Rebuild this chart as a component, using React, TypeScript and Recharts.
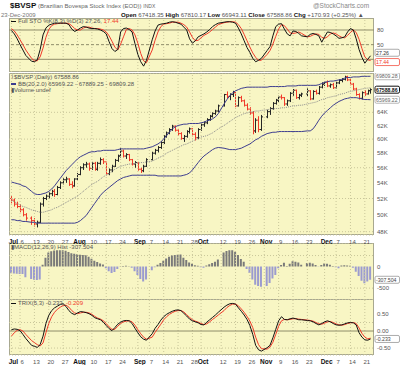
import React from "react";
import {
  ComposedChart,
  Line,
  Bar,
  Cell,
  XAxis,
  YAxis,
  CartesianGrid,
  ReferenceLine,
} from "recharts";

// $BVSP daily bars, 1 Jul - 23 Dec 2009, one slot per weekday (null = exchange closed)
// prices in thousands
const opens = [
  52.0, 51.8, 51.3, 51.0, 50.6, 50.0, null, 49.6, 49.3, 48.9,
  49.1, 51.3, 52.0, 52.3, 52.6, 52.9, 52.5, 53.4, 54.0, 54.4,
  54.5, 53.8, 53.6, 54.5, 55.1, 56.0, 56.4, 56.5, 55.9, 56.6,
  55.8, 56.6, 57.1, 56.8, 55.2, 55.7, 56.2, 57.0, 57.6, 58.3,
  57.6, 57.8, 57.1, 56.5, 56.7, 55.8, 55.6, 56.2, null, 57.1,
  58.0, 58.4, 58.8, 59.5, 60.4, 60.9, 61.4, 61.9, 61.3, 60.8,
  60.1, 60.4, 61.1, 61.5, 60.7, 60.2, 61.4, 62.1, 62.4, 62.9,
  63.4, 63.8, 64.2, null, 65.0, 66.8, 66.5, 66.8, 67.1, 65.0,
  66.3, 65.8, 65.1, 64.5, 63.9, 61.2, 62.8, 61.4, null, 63.3,
  64.1, 64.6, 65.4, 65.9, 66.4, 66.3, 65.3, 65.8, 67.0, 67.5,
  66.3, 66.7, null, 66.9, 67.4, 66.1, 67.3, 67.0, 68.0, 68.5,
  68.8, 68.2, 68.4, 67.9, 68.7, 69.1, 69.3, 69.7, 69.2, 68.5,
  67.7, 66.8, 66.2, 67.1, 66.9, 67.42,
];
const highs = [
  52.3, 52.0, 51.6, 51.3, 50.8, 50.2, null, 49.8, 49.6, 49.3,
  51.5, 52.2, 52.5, 52.8, 53.1, 53.2, 53.6, 54.2, 54.6, 54.8,
  54.6, 54.2, 54.6, 55.3, 56.2, 56.6, 56.8, 56.7, 56.8, 56.8,
  56.8, 57.4, 57.3, 56.8, 55.9, 56.4, 57.2, 57.8, 58.7, 58.5,
  58.0, 57.9, 57.2, 56.9, 56.8, 56.0, 56.4, 57.3, null, 58.2,
  58.6, 59.0, 59.7, 60.6, 61.1, 61.6, 62.1, 62.0, 61.5, 61.0,
  60.6, 61.3, 61.7, 61.6, 61.0, 61.6, 62.3, 62.6, 63.1, 63.6,
  64.0, 64.4, 65.2, null, 66.9, 67.3, 67.0, 67.4, 67.2, 66.5,
  66.6, 66.0, 65.4, 64.8, 64.2, 63.1, 63.4, 63.6, null, 64.4,
  64.8, 65.6, 66.1, 66.6, 66.8, 66.4, 66.0, 67.2, 67.7, 67.6,
  66.9, 67.1, null, 67.8, 67.5, 67.5, 67.6, 68.2, 68.8, 69.0,
  69.1, 68.6, 68.7, 68.9, 69.3, 69.5, 69.9, 69.9, 69.4, 68.7,
  67.9, 67.0, 67.3, 67.5, 67.6, 67.81,
];
const lows = [
  51.4, 51.0, 50.8, 50.3, 49.8, 49.3, null, 48.8, 48.6, 48.5,
  49.0, 51.0, 51.8, 52.0, 52.3, 52.2, 52.4, 53.2, 53.8, 54.0,
  53.6, 53.3, 53.5, 54.3, 55.0, 55.7, 56.0, 55.6, 55.7, 55.6,
  55.6, 56.4, 56.5, 55.0, 55.0, 55.4, 56.1, 56.8, 57.4, 57.4,
  57.2, 56.9, 56.3, 56.0, 55.6, 55.3, 55.4, 56.1, null, 57.0,
  57.8, 58.1, 58.6, 59.3, 60.2, 60.7, 61.2, 61.1, 60.5, 59.9,
  59.6, 60.2, 60.8, 60.4, 59.8, 60.0, 61.2, 61.8, 62.2, 62.7,
  63.2, 63.6, 64.0, null, 64.9, 66.2, 65.9, 66.4, 64.8, 64.9,
  65.6, 64.9, 64.3, 63.6, 60.7, 60.9, 61.0, 61.2, null, 63.1,
  63.6, 64.4, 65.2, 65.6, 66.0, 65.0, 65.0, 65.6, 66.6, 66.1,
  66.0, 66.4, null, 66.5, 65.9, 66.0, 66.8, 66.8, 67.8, 68.2,
  68.0, 67.9, 67.7, 67.8, 68.5, 68.8, 69.1, 69.0, 68.3, 67.5,
  66.6, 66.0, 66.0, 66.6, 66.8, 66.94,
];
const closes = [
  51.8, 51.3, 51.0, 50.6, 50.0, 49.6, null, 49.3, 48.9, 49.1,
  51.3, 52.0, 52.3, 52.6, 52.9, 52.5, 53.4, 54.0, 54.4, 54.5,
  53.8, 53.6, 54.5, 55.1, 56.0, 56.4, 56.5, 55.9, 56.6, 55.8,
  56.6, 57.1, 56.8, 55.2, 55.7, 56.2, 57.0, 57.6, 58.3, 57.6,
  57.8, 57.1, 56.5, 56.7, 55.8, 55.6, 56.2, 57.1, null, 58.0,
  58.4, 58.8, 59.5, 60.4, 60.9, 61.4, 61.9, 61.3, 60.8, 60.1,
  60.4, 61.1, 61.5, 60.7, 60.2, 61.4, 62.1, 62.4, 62.9, 63.4,
  63.8, 64.2, 65.0, null, 66.8, 66.5, 66.8, 67.1, 65.0, 66.3,
  65.8, 65.1, 64.5, 63.9, 61.2, 62.8, 61.4, 63.3, null, 64.1,
  64.6, 65.4, 65.9, 66.4, 66.3, 65.3, 65.8, 67.0, 67.5, 66.3,
  66.7, 66.9, null, 67.4, 66.1, 67.3, 67.0, 68.0, 68.5, 68.8,
  68.2, 68.4, 67.9, 68.7, 69.1, 69.3, 69.7, 69.2, 68.5, 67.7,
  66.8, 66.2, 67.1, 66.9, 67.42, 67.59,
];

// Bollinger bands (20,2)
const bbUpper = [
  54.1, 54.0, 53.9, 53.8, 53.6, 53.5, null, 52.9, 52.6, 52.5,
  52.5, 52.6, 52.7, 52.9, 53.2, 53.6, 54.1, 54.6, 55.1, 55.6,
  56.0, 56.4, 56.8, 57.2, 57.5, 57.7, 57.9, 58.1, 58.2, 58.2,
  58.3, 58.3, 58.4, 58.4, 58.4, 58.4, 58.4, 58.5, 58.6, 58.6,
  58.6, 58.6, 58.6, 58.6, 58.6, 58.6, 58.6, 58.7, null, 58.9,
  59.1, 59.3, 59.6, 60.0, 60.5, 61.0, 61.5, 61.8, 62.0, 62.1,
  62.2, 62.2, 62.3, 62.3, 62.3, 62.3, 62.4, 62.5, 62.7, 62.8,
  63.0, 63.3, 63.8, null, 65.3, 66.0, 66.6, 67.1, 67.4, 67.6,
  67.8, 67.9, 68.0, 68.0, 68.0, 68.0, 68.0, 68.0, null, 68.0,
  68.1, 68.1, 68.1, 68.1, 68.1, 68.1, 68.2, 68.2, 68.2, 68.2,
  68.3, 68.3, null, 68.3, 68.3, 68.3, 68.3, 68.4, 68.6, 68.8,
  68.9, 69.0, 69.0, 69.1, 69.2, 69.3, 69.5, 69.6, 69.6, 69.7,
  69.7, 69.7, 69.8, 69.8, 69.8, 69.81,
];
const bbMid = [
  51.8, 51.6, 51.4, 51.2, 51.0, 50.9, null, 50.6, 50.5, 50.4,
  50.3, 50.3, 50.4, 50.5, 50.6, 50.8, 50.9, 51.1, 51.3, 51.5,
  51.7, 51.9, 52.1, 52.3, 52.6, 52.9, 53.2, 53.5, 53.8, 54.0,
  54.2, 54.5, 54.8, 55.0, 55.2, 55.5, 55.8, 56.0, 56.2, 56.3,
  56.4, 56.5, 56.5, 56.6, 56.6, 56.7, 56.7, 56.8, null, 56.9,
  57.1, 57.3, 57.5, 57.7, 58.0, 58.2, 58.4, 58.6, 58.8, 59.0,
  59.2, 59.3, 59.5, 59.7, 59.9, 60.1, 60.3, 60.4, 60.5, 60.7,
  60.9, 61.2, 61.5, null, 62.0, 62.3, 62.6, 62.9, 63.2, 63.4,
  63.6, 63.8, 63.9, 64.0, 64.1, 64.2, 64.2, 64.3, null, 64.4,
  64.5, 64.5, 64.6, 64.6, 64.7, 64.7, 64.8, 64.9, 65.0, 65.0,
  65.1, 65.1, null, 65.3, 65.4, 65.5, 65.6, 65.8, 66.0, 66.1,
  66.3, 66.4, 66.5, 66.6, 66.8, 66.9, 67.0, 67.2, 67.3, 67.4,
  67.5, 67.6, 67.7, 67.8, 67.85, 67.89,
];
const bbLower = [
  49.4, 49.4, 49.3, 49.3, 49.2, 49.2, null, 49.1, 49.1, 49.0,
  49.0, 49.0, 49.0, 49.0, 49.0, 49.0, 49.0, 49.0, 49.0, 49.0,
  49.0, 49.0, 49.0, 49.1, 49.3, 49.6, 49.9, 50.4, 50.9, 51.4,
  51.9, 52.4, 52.8, 53.1, 53.4, 53.7, 54.0, 54.3, 54.5, 54.7,
  54.8, 54.9, 55.0, 55.0, 55.0, 55.0, 55.0, 55.0, null, 55.0,
  55.0, 54.9, 54.9, 54.9, 54.9, 54.9, 54.9, 54.9, 54.9, 54.9,
  55.0, 55.1, 55.3, 55.7, 56.2, 56.7, 57.2, 57.6, 57.9, 58.2,
  58.5, 58.7, 58.8, null, 58.7, 58.6, 58.5, 58.5, 58.5, 58.6,
  58.7, 58.9, 59.1, 59.3, 59.6, 59.9, 60.1, 60.4, null, 60.8,
  60.9, 61.0, 61.0, 61.1, 61.1, 61.1, 61.1, 61.1, 61.1, 61.1,
  61.1, 61.1, null, 61.2, 61.2, 61.5, 62.1, 62.8, 63.4, 63.9,
  64.3, 64.7, 65.1, 65.4, 65.7, 65.9, 66.1, 66.2, 66.3, 66.3,
  66.3, 66.2, 66.1, 66.0, 66.0, 65.97,
];

// Full STO %K(8,3) %D(3)
const stoK = [
  79, 72, 62, 50, 39, 28, null, 16, 15, 19,
  40, 70, 84, 90, 92, 94, 94, 94, 94, 94,
  91, 82, 77, 80, 84, 87, 86, 84, 83, 83,
  82, 80, 77, 72, 56, 42, 36, 40, 76, 83,
  84, 81, 76, 52, 30, 15, 6, 18, null, 60,
  78, 90, 92, 93, 94, 96, 97, 96, 94, 92,
  86, 80, 62, 53, 58, 66, 69, 72, 76, 81,
  87, 91, 94, null, 96, 97, 97, 96, 94, 84,
  72, 58, 44, 34, 22, 15, 18, 22, null, 38,
  46, 68, 87, 92, 93, 82, 72, 68, 78, 77,
  73, 68, null, 66, 71, 73, 71, 68, 55, 66,
  76, 75, 72, 68, 63, 64, 66, 76, 83, 80,
  62, 40, 24, 12, 20, 27.26,
];
const stoD = [
  83, 78, 70, 60, 50, 39, null, 22, 17, 17,
  25, 43, 65, 81, 89, 92, 93, 94, 94, 94,
  93, 89, 83, 80, 80, 84, 86, 86, 84, 83,
  83, 82, 80, 76, 68, 57, 45, 39, 51, 66,
  81, 83, 80, 70, 53, 32, 17, 13, null, 39,
  59, 76, 87, 92, 93, 94, 96, 96, 96, 94,
  91, 86, 76, 65, 58, 59, 64, 69, 72, 76,
  81, 86, 91, null, 95, 96, 97, 97, 96, 91,
  83, 71, 58, 45, 33, 24, 18, 18, null, 30,
  38, 51, 67, 82, 91, 89, 82, 74, 73, 74,
  76, 73, null, 66, 67, 70, 72, 71, 65, 63,
  66, 72, 74, 72, 68, 65, 64, 69, 75, 80,
  75, 61, 42, 25, 19, 17.44,
];

// MACD(12,26,9) histogram
const macdHist = [
  -160, -165, -170, -172, -175, -250, null, -290, -305, -310,
  -300, 40, 200, 320, 350, 365, 370, 372, 370, 360,
  330, 305, 290, 280, 270, 262, 255, 220, 175, 130,
  100, 70, 45, -40, -110, -150, -130, -60, -10, 10,
  15, 5, -30, -110, -200, -290, -345, -300, null, -90,
  -20, 40, 80, 130, 180, 220, 250, 265, 270, 275,
  200, 150, 90, 60, 25, 15, -20, -30, 20, 50,
  80, 110, 160, null, 320, 355, 370, 375, 340, 260,
  170, 110, -60, -150, -300, -420, -450, -470, null, -450,
  -380, -280, -200, -40, 30, 86, 10, 60, 117, 110,
  90, 40, null, 80, 85, 70, 30, -10, 30, 70,
  60, 40, 10, -20, -40, 20, 25, 20, 15, -30,
  -120, -220, -330, -390, -350, -307.504,
];

// TRIX(5,3) and its signal
const trix = [
  0.04, 0.06, 0.05, 0.01, -0.1, -0.22, null, -0.42, -0.45, -0.48,
  -0.4, -0.15, 0.22, 0.46, 0.6, 0.68, 0.73, 0.78, 0.8, 0.72,
  0.6, 0.52, 0.48, 0.53, 0.57, 0.56, 0.54, 0.51, 0.46, 0.39,
  0.36, 0.33, 0.26, 0.16, 0.07, 0.01, 0.1, 0.2, 0.26, 0.3,
  0.31, 0.3, 0.22, 0.08, -0.05, -0.17, -0.24, -0.27, null, -0.08,
  0.08, 0.19, 0.32, 0.42, 0.49, 0.54, 0.58, 0.61, 0.62, 0.6,
  0.52, 0.44, 0.35, 0.3, 0.27, 0.24, 0.19, 0.18, 0.26, 0.33,
  0.4, 0.47, 0.55, null, 0.7, 0.76, 0.8, 0.81, 0.79, 0.68,
  0.58, 0.47, 0.34, 0.16, -0.1, -0.42, -0.55, -0.59, null, -0.49,
  -0.42, -0.2, 0.05, 0.3, 0.42, 0.34, 0.33, 0.36, 0.38, 0.36,
  0.33, 0.33, null, 0.31, 0.3, 0.27, 0.22, 0.18, 0.22, 0.27,
  0.3, 0.27, 0.22, 0.18, 0.17, 0.18, 0.21, 0.24, 0.25, 0.24,
  0.18, -0.05, -0.18, -0.26, -0.27, -0.233,
];
const trixSig = [
  -0.15, -0.05, 0.02, 0.04, 0.0, -0.1, null, -0.28, -0.34, -0.4,
  -0.44, -0.35, -0.05, 0.22, 0.42, 0.55, 0.64, 0.7, 0.75, 0.76,
  0.7, 0.6, 0.53, 0.51, 0.53, 0.55, 0.55, 0.53, 0.49, 0.43,
  0.38, 0.35, 0.3, 0.22, 0.12, 0.05, 0.05, 0.14, 0.22, 0.27,
  0.29, 0.3, 0.27, 0.17, 0.04, -0.08, -0.18, -0.24, null, -0.18,
  -0.04, 0.08, 0.2, 0.33, 0.42, 0.49, 0.54, 0.58, 0.6, 0.6,
  0.56, 0.48, 0.4, 0.33, 0.29, 0.26, 0.22, 0.19, 0.21, 0.27,
  0.34, 0.4, 0.47, null, 0.6, 0.69, 0.75, 0.79, 0.79, 0.74,
  0.65, 0.55, 0.43, 0.29, 0.1, -0.18, -0.4, -0.52, null, -0.53,
  -0.47, -0.33, -0.1, 0.14, 0.3, 0.34, 0.33, 0.34, 0.36, 0.36,
  0.35, 0.34, null, 0.32, 0.31, 0.29, 0.25, 0.21, 0.2, 0.23,
  0.27, 0.28, 0.25, 0.21, 0.18, 0.17, 0.19, 0.22, 0.24, 0.25,
  0.22, 0.09, -0.07, -0.18, -0.23, -0.209,
];

const tickIdx = [0, 3, 8, 13, 18, 23, 28, 33, 38, 44, 48, 53, 58, 63, 66, 73, 78, 83, 88, 93, 98, 103, 109, 113, 118, 123];
const tickLabels = ["Jul", "6", "13", "20", "27", "Aug", "10", "17", "24", "Sep", "7", "14", "21", "28", "Oct", "12", "19", "26", "Nov", "9", "16", "23", "Dec", "7", "14", "21"];
const monthNames = ["Jul", "Aug", "Sep", "Oct", "Nov", "Dec"];

const priceTicks = [48, 50, 52, 54, 56, 58, 60, 62, 64];
const stoTicks = [80, 50];
const macdTicks = [500, 250, 0, -250, -500];
const trixTicks = [0.75, 0.5, 0.25, 0, -0.25, -0.5];

const lastBar = { open: "67418.35", high: "67810.17", low: "66943.11", close: "67588.86", chg: "+170.93 (+0.25%)" };
const bbLast = ["65969.22", "67889.25", "69809.28"];
const stoLast = ["27.26", "17.44"];
const macdLast = "-307.504";
const trixLast = ["-0.233", "-0.209"];

const FONT = '"Liberation Sans", Arial, sans-serif';
const BG = "#f8f6c4";
const GRID = "#c9c69a";
const LEVEL = "#8f8d6a";
const RED = "#f03a2a";
const NAVY = "#3d3d8f";

let prevClose: number | null = null;
const data = closes.map((c, i) => {
  const row = {
    i,
    range: c == null ? null : [lows[i], highs[i]],
    o: opens[i],
    h: highs[i],
    l: lows[i],
    c,
    up: c != null && prevClose != null && c >= prevClose,
    upper: bbUpper[i],
    mid: bbMid[i],
    lower: bbLower[i],
    k: stoK[i],
    d: stoD[i],
    hist: macdHist[i],
    trix: trix[i],
    sig: trixSig[i],
  };
  if (c != null) prevClose = c;
  return row;
});

const OhlcShape = (props: any) => {
  const { x, y, width, height, payload } = props;
  if (payload == null || payload.c == null) return null;
  const top = Math.min(y, y + height);
  const h = Math.abs(height);
  const cx = Math.round(x + width / 2) + 0.5;
  const lh = Math.log(payload.h);
  const ll = Math.log(payload.l);
  const toY = (v: number) => top + ((lh - Math.log(v)) / (lh - ll || 1)) * h;
  const color = payload.up ? "#262626" : RED;
  return (
    <g stroke={color} strokeWidth={1}>
      <line x1={cx} x2={cx} y1={top} y2={top + Math.max(h, 1)} />
      <line x1={cx - 1.5} x2={cx} y1={toY(payload.o)} y2={toY(payload.o)} />
      <line x1={cx} x2={cx + 1.5} y1={toY(payload.c)} y2={toY(payload.c)} />
    </g>
  );
};

const DateTick = (props: any) => {
  const { x, y, payload } = props;
  const k = tickIdx.indexOf(payload.value);
  const label = k >= 0 ? tickLabels[k] : "";
  const bold = monthNames.includes(label);
  return (
    <text
      x={x + 2}
      y={y + 6.5}
      textAnchor="middle"
      fontSize={bold ? 6.5 : 6}
      fontWeight={bold ? "bold" : "normal"}
      fill={bold ? "#111" : "#555"}
      fontFamily={FONT}
    >
      {label}
    </text>
  );
};

// little value flag drawn at the right end of a reference line
const valueBox =
  (text: string, color: string, border: string, bold = false, dy = 0) =>
  (props: any) => {
    const vb = props.viewBox || {};
    const x = (vb.x || 0) + (vb.width || 0) + 1;
    const y = (vb.y || 0) + dy;
    return (
      <g>
        <rect x={x} y={y - 3.5} width={24.5} height={7} rx={1.5} fill="#fff" stroke={border} strokeWidth={bold ? 1 : 0.7} />
        <text x={x + 1} y={y + 2} fontSize={5.2} fontFamily={FONT} fill={color} fontWeight={bold ? "bold" : "normal"}>
          {text}
        </text>
      </g>
    );
  };

const xCommon = {
  dataKey: "i",
  scale: "band" as const,
  padding: { left: 1, right: 2 },
  ticks: tickIdx,
  interval: 0 as const,
};

const yCommon = {
  orientation: "right" as const,
  width: 26,
  tickLine: false,
  axisLine: false,
  tickSize: 0,
  tickMargin: 3,
  allowDataOverflow: true,
  tick: { fontSize: 6, fill: "#555", fontFamily: FONT },
};

const vGrid = tickIdx.map((t) => (
  <ReferenceLine key={"v" + t} x={t} stroke={GRID} strokeDasharray="1 2" />
));

const PL = 9;
const PW = 365;

const panel = (top: number, h: number) => (
  <div
    style={{
      position: "absolute",
      left: PL,
      top,
      width: PW,
      height: h,
      background: BG,
      boxSizing: "border-box",
      border: "1px solid #a8a890",
    }}
  />
);

const txt = (style: React.CSSProperties, children: React.ReactNode) => (
  <div
    style={{
      position: "absolute",
      whiteSpace: "nowrap",
      fontFamily: FONT,
      lineHeight: 1,
      color: "#555",
      ...style,
    }}
  >
    {children}
  </div>
);

const dash = (color: string) => (
  <span style={{ display: "inline-block", width: 5, height: 1.5, background: color, verticalAlign: "middle", marginRight: 2 }} />
);

export default function App() {
  return (
    <div
      style={{
        position: "absolute",
        left: 0,
        top: 0,
        width: 400,
        height: 365,
        background: "#fff",
        overflow: "hidden",
        fontFamily: FONT,
      }}
    >
      {panel(18, 54)}
      {panel(73, 162)}
      {panel(243, 57)}
      {panel(299, 56)}

      {/* Full stochastics */}
      <div style={{ position: "absolute", left: 0, top: 18 }}>
        <ComposedChart width={400} height={54} data={data} margin={{ top: 0, right: 0, bottom: 0, left: PL }}>
          <XAxis {...xCommon} hide />
          <YAxis {...yCommon} domain={[-6, 104.6]} ticks={stoTicks} />
          {vGrid}
          <ReferenceLine y={80} stroke={LEVEL} />
          <ReferenceLine y={50} stroke={LEVEL} strokeDasharray="3 2" />
          <ReferenceLine y={20} stroke={LEVEL} />
          <Line dataKey="d" stroke={RED} strokeWidth={1} dot={false} connectNulls isAnimationActive={false} />
          <Line dataKey="k" stroke="#111" strokeWidth={1} dot={false} connectNulls isAnimationActive={false} />
          <ReferenceLine y={27.26} stroke="none" label={valueBox(stoLast[0], "#333", "#888", false, -3)} />
          <ReferenceLine y={17.44} stroke="none" label={valueBox(stoLast[1], RED, RED, false, 1.5)} />
        </ComposedChart>
      </div>

      {/* Price with Bollinger bands */}
      <div style={{ position: "absolute", left: 0, top: 73 }}>
        <ComposedChart width={400} height={172} data={data} margin={{ top: 0, right: 0, bottom: 0, left: PL }}>
          <XAxis {...xCommon} height={10} tickLine={false} axisLine={false} tickSize={0} tick={(p: any) => <DateTick {...p} />} />
          <YAxis
            {...yCommon}
            scale="log"
            domain={[47.62, 70.36]}
            ticks={priceTicks}
            tickFormatter={(v: number) => v + "K"}
          />
          <CartesianGrid vertical={false} stroke={GRID} strokeDasharray="1 2" />
          {vGrid}
          <Line dataKey="mid" stroke="#8c8c8c" strokeWidth={1} strokeDasharray="1 1" dot={false} connectNulls isAnimationActive={false} />
          <Line dataKey="upper" stroke={NAVY} strokeWidth={1} dot={false} connectNulls isAnimationActive={false} />
          <Line dataKey="lower" stroke={NAVY} strokeWidth={1} dot={false} connectNulls isAnimationActive={false} />
          <Bar dataKey="range" shape={(p: any) => <OhlcShape {...p} />} isAnimationActive={false} />
          <ReferenceLine y={69.80928} stroke="none" label={valueBox(bbLast[2], "#666", "#999")} />
          <ReferenceLine y={67.58886} stroke="none" label={valueBox(lastBar.close, "#111", "#111", true)} />
          <ReferenceLine y={65.96922} stroke="none" label={valueBox(bbLast[0], "#666", "#999")} />
        </ComposedChart>
      </div>

      {/* MACD histogram */}
      <div style={{ position: "absolute", left: 0, top: 243 }}>
        <ComposedChart width={400} height={57} data={data} margin={{ top: 0, right: 0, bottom: 0, left: PL }}>
          <XAxis {...xCommon} hide />
          <YAxis {...yCommon} domain={[-773, 539]} ticks={macdTicks} />
          <CartesianGrid vertical={false} stroke={GRID} strokeDasharray="1 2" />
          {vGrid}
          <Bar dataKey="hist" barSize={2} isAnimationActive={false}>
            {data.map((d) => (
              <Cell key={d.i} fill={d.hist != null && d.hist >= 0 ? "#7a7a7a" : "#9b9bcf"} />
            ))}
          </Bar>
          <ReferenceLine y={-307.504} stroke="none" label={valueBox(macdLast, "#444", "#888")} />
        </ComposedChart>
      </div>

      {/* TRIX */}
      <div style={{ position: "absolute", left: 0, top: 299 }}>
        <ComposedChart width={400} height={66} data={data} margin={{ top: 0, right: 0, bottom: 0, left: PL }}>
          <XAxis {...xCommon} height={10} tickLine={false} axisLine={false} tickSize={0} tick={(p: any) => <DateTick {...p} />} />
          <YAxis {...yCommon} domain={[-0.704, 0.94]} ticks={trixTicks} tickFormatter={(v: number) => v.toFixed(2)} />
          <CartesianGrid vertical={false} stroke={GRID} strokeDasharray="1 2" />
          {vGrid}
          <ReferenceLine y={0} stroke={LEVEL} />
          <Line dataKey="sig" stroke={RED} strokeWidth={1} dot={false} connectNulls isAnimationActive={false} />
          <Line dataKey="trix" stroke="#111" strokeWidth={1} dot={false} connectNulls isAnimationActive={false} />
          <ReferenceLine y={-0.233} stroke="none" label={valueBox(trixLast[0], "#444", "#888")} />
        </ComposedChart>
      </div>

      {/* header */}
      {txt(
        { left: 10, top: 2, fontSize: 8, color: "#111" },
        <>
          <b>$BVSP</b>
          <span style={{ fontSize: 6, color: "#666" }}> (Brazilian Bovespa Stock Index (EOD)) </span>
          <span style={{ fontSize: 5, color: "#666" }}>INDX</span>
        </>
      )}
      {txt({ left: 313, top: 3, fontSize: 6.5, color: "#888" }, "@StockCharts.com")}
      {txt({ left: 1, top: 11.5, fontSize: 6, color: "#777" }, "23-Dec-2009")}
      {txt(
        { left: 121, top: 11.5, fontSize: 6.1, color: "#555" },
        <>
          <b style={{ color: "#111" }}>Open</b> {lastBar.open} <b style={{ color: "#111" }}>High</b> {lastBar.high}{" "}
          <b style={{ color: "#111" }}>Low</b> {lastBar.low} <b style={{ color: "#111" }}>Close</b> {lastBar.close}{" "}
          <b style={{ color: "#111" }}>Chg</b> {lastBar.chg} ▲
        </>
      )}

      {/* panel legends */}
      {txt(
        { left: 11, top: 18, fontSize: 6 },
        <>
          {dash("#111")}Full STO %K(8,3) %D(3) {stoLast[0]}, <span style={{ color: RED }}>{stoLast[1]}</span>
        </>
      )}
      {txt({ left: 11, top: 74, fontSize: 6 }, <>⌇$BVSP (Daily) {lastBar.close}</>)}
      {txt(
        { left: 11, top: 80.5, fontSize: 6 },
        <>
          {dash(NAVY)}BB(20,2.0) {bbLast[0]} - {bbLast[1]} - {bbLast[2]}
        </>
      )}
      {txt({ left: 11, top: 86.5, fontSize: 6 }, <>▮Volume undef</>)}
      {txt({ left: 11, top: 243.5, fontSize: 6 }, <>▮MACD(12,26,9) Hist {macdLast}</>)}
      {txt(
        { left: 11, top: 300, fontSize: 6 },
        <>
          {dash("#111")}TRIX(5,3) {trixLast[0]}, <span style={{ color: RED }}>{trixLast[1]}</span>
        </>
      )}
    </div>
  );
}
